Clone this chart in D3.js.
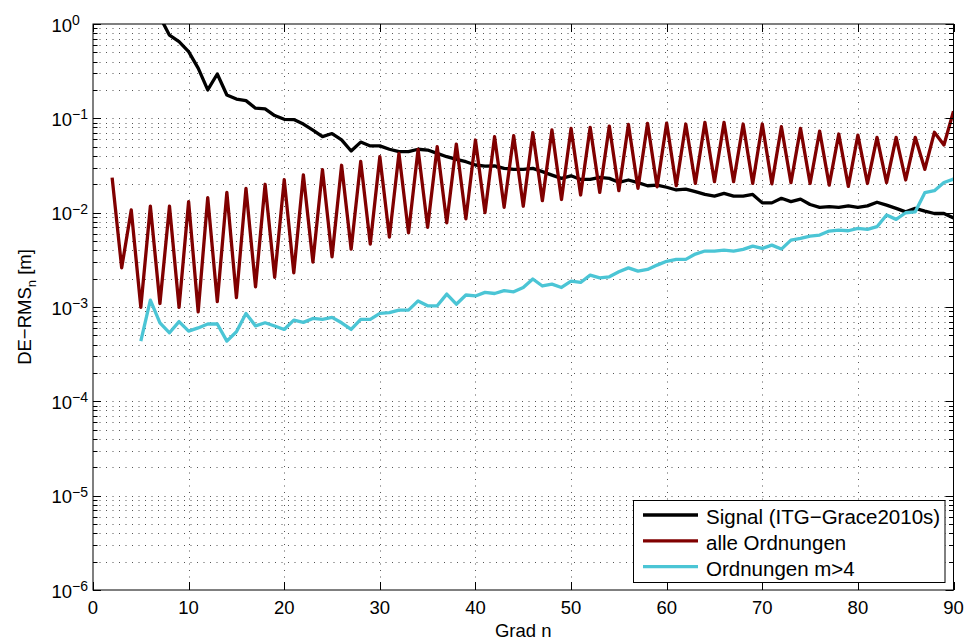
<!DOCTYPE html>
<html>
<head>
<meta charset="utf-8">
<script src="https://cdn.jsdelivr.net/npm/d3@7"></script>
<style>
  body { margin: 0; background: #fff; }
  text { font-family: "Liberation Sans", Arial, Helvetica, sans-serif; fill: #000; }
</style>
</head>
<body>
<div id="chart"></div>
<script>
// DE-RMS per degree
const signalStart = 7;
const signalValues = [
  1.19, 0.76, 0.65, 0.51, 0.34, 0.20, 0.295, 0.177, 0.16, 0.154,
  0.128, 0.126, 0.107, 0.0976, 0.097, 0.087, 0.075, 0.064, 0.069, 0.059,
  0.045, 0.056, 0.051, 0.051, 0.047, 0.0443, 0.0443, 0.047, 0.0461, 0.0425,
  0.0392, 0.0367, 0.0347, 0.032, 0.0312, 0.0314, 0.0295, 0.0288, 0.0288, 0.0295,
  0.0272, 0.025, 0.0231, 0.0246, 0.0225, 0.0225, 0.0237, 0.0231, 0.021, 0.0222,
  0.0208, 0.0193, 0.0196, 0.0186, 0.0174, 0.0178, 0.0167, 0.0156, 0.015, 0.016,
  0.015, 0.015, 0.0156, 0.0127, 0.0127, 0.0142, 0.0131, 0.0139, 0.0122, 0.0114,
  0.0116, 0.0114, 0.0118, 0.0114, 0.0118, 0.0129, 0.012, 0.0111, 0.0102, 0.0111,
  0.0104, 0.0098, 0.0098, 0.0088
];

const alleStart = 2;
const alleValues = [
  0.0235, 0.0026, 0.0107, 0.00099, 0.0117, 0.00109, 0.0117, 0.00099, 0.0131, 0.00089,
  0.0144, 0.00114, 0.0164, 0.00126, 0.0181, 0.00164, 0.0200, 0.00206, 0.0224, 0.0023,
  0.0252, 0.0030, 0.0286, 0.0034, 0.0318, 0.0041, 0.0350, 0.00465, 0.0392, 0.0055,
  0.0425, 0.0061, 0.0469, 0.0070, 0.0500, 0.0078, 0.0534, 0.0086, 0.0589, 0.0100,
  0.0638, 0.0114, 0.0655, 0.0117, 0.0705, 0.0134, 0.0752, 0.0138, 0.0783, 0.0154,
  0.0803, 0.0164, 0.0828, 0.0171, 0.0863, 0.0181, 0.0885, 0.0188, 0.0890, 0.0193,
  0.0870, 0.0204, 0.0906, 0.0213, 0.0906, 0.0213, 0.0870, 0.0204, 0.0870, 0.0202,
  0.0815, 0.0208, 0.0783, 0.0204, 0.0733, 0.0196, 0.0682, 0.0190, 0.0665, 0.0204,
  0.0629, 0.0208, 0.0629, 0.0222, 0.0629, 0.0288, 0.0711, 0.0521, 0.119
];

const m4Start = 5;
const m4Values = [
  0.000435, 0.00118, 0.00068, 0.000533, 0.0007, 0.000555, 0.0006, 0.00066, 0.00066, 0.000435,
  0.000546, 0.000855, 0.00063, 0.00068, 0.000628, 0.000578, 0.000726, 0.000687, 0.000757, 0.00074,
  0.000776, 0.00068, 0.000578, 0.00074, 0.00074, 0.000855, 0.00087, 0.000927, 0.000927, 0.00116,
  0.00103, 0.00103, 0.00137, 0.00107, 0.00134, 0.00131, 0.00143, 0.00139, 0.00149, 0.00145,
  0.00161, 0.00198, 0.00167, 0.00175, 0.00161, 0.00188, 0.00182, 0.00218, 0.00204, 0.00209,
  0.00236, 0.0026, 0.0024, 0.0025, 0.00278, 0.00305, 0.0032, 0.0032, 0.00364, 0.00392,
  0.00392, 0.00401, 0.00392, 0.00408, 0.00442, 0.00418, 0.00453, 0.00411, 0.00512, 0.00533,
  0.00565, 0.00579, 0.00638, 0.00654, 0.00643, 0.00681, 0.00664, 0.0071, 0.00944, 0.00849,
  0.00998, 0.0102, 0.0163, 0.0171, 0.0209, 0.0227
];

const seriesNames = ['Signal (ITG\u2212Grace2010s)', 'alle Ordnungen', 'Ordnungen m>4'];
const seriesColors = ['#000000', '#800000', '#4bc5d5'];
const xTicks = [0, 10, 20, 30, 40, 50, 60, 70, 80, 90];
const yExponents = [-6, -5, -4, -3, -2, -1, 0];

const width = 968;
const height = 642;
const margin = { top: 24, right: 14.5, bottom: 52, left: 93 };

const svg = d3.select('#chart').append('svg')
  .attr('width', width)
  .attr('height', height);

const x = d3.scaleLinear().domain([0, 90]).range([margin.left, width - margin.right]);
const y = d3.scaleLog().domain([1e-6, 1]).range([height - margin.bottom, margin.top]);

const toPoints = (start, vals) => vals.map((v, i) => ({ n: start + i, v: v }));
const series = [
  toPoints(signalStart, signalValues),
  toPoints(alleStart, alleValues),
  toPoints(m4Start, m4Values)
];

// grid (MATLAB style dotted)
const minorVals = [];
yExponents.forEach(e => {
  if (e === 0) { minorVals.push(1); return; }
  for (let k = 1; k <= 9; k++) minorVals.push(k * Math.pow(10, e));
});

const grid = svg.append('g')
  .attr('stroke', '#555')
  .attr('stroke-width', 1)
  .attr('stroke-dasharray', '1,5.5')
  .attr('fill', 'none');

grid.selectAll('line.gy')
  .data(minorVals.filter(v => v > 1e-6 && v < 1))
  .join('line')
    .attr('class', 'gy')
    .attr('x1', x(0)).attr('x2', x(90))
    .attr('y1', d => Math.round(y(d)) + 0.5)
    .attr('y2', d => Math.round(y(d)) + 0.5);

grid.selectAll('line.gx')
  .data(xTicks.filter(t => t > 0 && t < 90))
  .join('line')
    .attr('class', 'gx')
    .attr('x1', d => Math.round(x(d)) + 0.5).attr('x2', d => Math.round(x(d)) + 0.5)
    .attr('y1', y(1)).attr('y2', y(1e-6));

// data lines
svg.append('clipPath').attr('id', 'clip')
  .append('rect')
    .attr('x', x(0)).attr('y', y(1))
    .attr('width', x(90) - x(0)).attr('height', y(1e-6) - y(1));

const line = d3.line().x(d => x(d.n)).y(d => y(d.v));

svg.append('g').attr('clip-path', 'url(#clip)')
  .selectAll('path')
  .data(series)
  .join('path')
    .attr('d', line)
    .attr('fill', 'none')
    .attr('stroke', (d, i) => seriesColors[i])
    .attr('stroke-width', 3.3)
    .attr('stroke-linejoin', 'round');

// axes box and ticks (inward, all four sides)
const ax = svg.append('g').attr('stroke', '#000').attr('stroke-width', 1);
ax.append('rect')
  .attr('x', x(0)).attr('y', y(1))
  .attr('width', x(90) - x(0)).attr('height', y(1e-6) - y(1))
  .attr('fill', 'none');

xTicks.forEach(t => {
  const xx = Math.round(x(t)) + 0.5;
  ax.append('line').attr('x1', xx).attr('x2', xx).attr('y1', y(1e-6)).attr('y2', y(1e-6) - 8);
  ax.append('line').attr('x1', xx).attr('x2', xx).attr('y1', y(1)).attr('y2', y(1) + 8);
});

minorVals.forEach(v => {
  const yy = Math.round(y(v)) + 0.5;
  const len = (Math.abs(Math.log10(v) - Math.round(Math.log10(v))) < 1e-9) ? 8 : 4.5;
  ax.append('line').attr('x1', x(0)).attr('x2', x(0) + len).attr('y1', yy).attr('y2', yy);
  ax.append('line').attr('x1', x(90)).attr('x2', x(90) - len).attr('y1', yy).attr('y2', yy);
});

// tick labels
svg.append('g').selectAll('text')
  .data(xTicks)
  .join('text')
    .attr('x', d => x(d))
    .attr('y', y(1e-6) + 23.5)
    .attr('text-anchor', 'middle')
    .attr('font-size', 18.5)
    .text(d => d);

const yLabels = svg.append('g').selectAll('text')
  .data(yExponents)
  .join('text')
    .attr('x', 51.5)
    .attr('y', d => y(Math.pow(10, d)) + 7.5)
    .attr('font-size', 18.5);
yLabels.append('tspan').text('10');
yLabels.append('tspan')
  .attr('font-size', 14)
  .attr('dy', -6.5)
  .text(d => String(d).replace('-', '\u2212'));

// axis titles
svg.append('text')
  .attr('x', (x(0) + x(90)) / 2)
  .attr('y', 637)
  .attr('text-anchor', 'middle')
  .attr('font-size', 18.5)
  .text('Grad n');

const yTitle = svg.append('text')
  .attr('transform', `translate(31,${(y(1) + y(1e-6)) / 2}) rotate(-90)`)
  .attr('text-anchor', 'middle')
  .attr('font-size', 18.5);
yTitle.append('tspan').text('DE\u2212RMS');
yTitle.append('tspan').attr('font-size', 13).attr('dy', 5).text('n');
yTitle.append('tspan').attr('dy', -5).text(' [m]');

// legend
const legend = svg.append('g');
legend.append('rect')
  .attr('x', 633.5).attr('y', 500.5)
  .attr('width', 311.5).attr('height', 82)
  .attr('fill', '#fff').attr('stroke', '#000').attr('stroke-width', 1);

const rows = legend.selectAll('g.row')
  .data(seriesNames)
  .join('g')
    .attr('class', 'row')
    .attr('transform', (d, i) => `translate(0,${515 + i * 25.8})`);

rows.append('line')
  .attr('x1', 643).attr('x2', 698)
  .attr('stroke', (d, i) => seriesColors[i])
  .attr('stroke-width', 3.3);

rows.append('text')
  .attr('x', 706)
  .attr('y', 9)
  .attr('font-size', 20.5)
  .text(d => d);
</script>
</body>
</html>
